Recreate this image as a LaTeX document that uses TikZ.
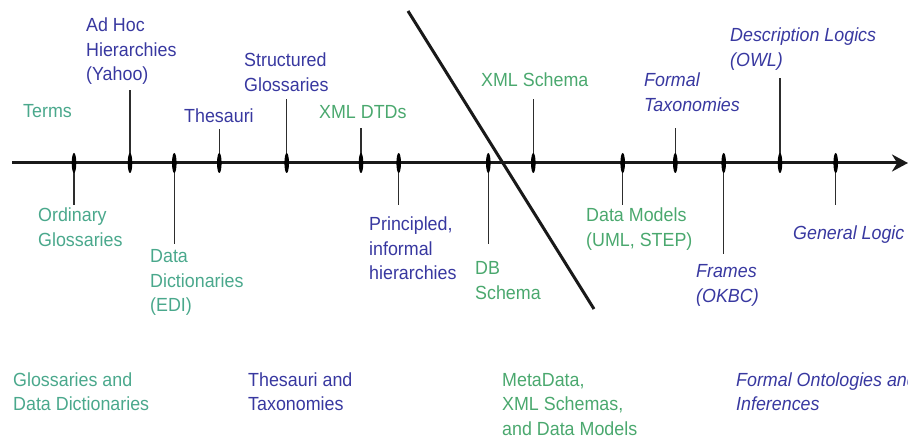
\documentclass[tikz,border=0pt]{standalone}
\usepackage{fontspec}
\setmainfont{Liberation Sans}[FakeStretch=0.94]
\usetikzlibrary{arrows.meta,shapes.geometric}

\definecolor{tealtxt}{RGB}{74,168,140}
\definecolor{greentxt}{RGB}{74,168,110}
\definecolor{bluetxt}{RGB}{56,56,160}
\definecolor{stemgray}{RGB}{45,45,45}

% left-aligned multi-line label; the box baseline is the first line's baseline
\newcommand\lbl[1]{\vtop{\baselineskip=24.5pt\halign{##\hfil\cr#1\crcr}}}

\begin{document}
\begin{tikzpicture}[x=1pt,y=-1pt,
  txt/.style={anchor=base west,inner sep=0pt,font=\fontsize{19}{24.5}\selectfont},
  teal/.style={txt,text=tealtxt},
  green/.style={txt,text=greentxt},
  blue/.style={txt,text=bluetxt},
  blueit/.style={txt,text=bluetxt,font=\fontsize{19}{24.5}\selectfont\itshape},
  tick/.style={fill=black,draw=none,ellipse,minimum width=4.6pt,minimum height=20pt,inner sep=0pt},
  stem/.style={draw=stemgray,line width=1.5pt},
  axis/.style={draw=black!90,line width=3pt,-{Stealth[length=16pt,width=17pt]}},
  divider/.style={draw=black!90,line width=3pt}]

\useasboundingbox (0,0) rectangle (908,438);
\clip (0,0) rectangle (908,438);

% time axis
\coordinate (axstart) at (12,163);
\coordinate (axend) at (908,163);
\draw[axis] (axstart) -- (axend);

% dividing line
\coordinate (dtop) at (408,11);
\coordinate (dbot) at (594,309);
\draw[divider] (dtop) -- (dbot);

% ticks on the axis and the ends of their stems
\foreach \n/\x/\y in {t1/74/205, t2/130/90, t3/174.3/244, t4/219.3/129,
                      t5/286.7/99, t6/361/128, t7/398.7/205, t8/488.3/244,
                      t9/533.3/99, t10/622.7/205, t11/675.3/128, t12/723.7/254,
                      t13/780/78, t14/835.7/205}{
  \coordinate (\n e) at (\x,\y);
  \draw[stem] (\x,163) -- (\n e);
  \node[tick] (\n) at (\x,163) {};
}

% labels above and below the axis
\node[teal]   (terms)  at (23,118)  {\lbl{Terms}};
\node[teal]   (ordgl)  at (38,222)  {\lbl{Ordinary\cr Glossaries}};
\node[blue]   (adhoc)  at (86,32)   {\lbl{Ad Hoc\cr Hierarchies\cr (Yahoo)}};
\node[teal]   (datad)  at (150,263) {\lbl{Data\cr Dictionaries\cr (EDI)}};
\node[blue]   (thes)   at (184,123) {\lbl{Thesauri}};
\node[blue]   (strgl)  at (244,67)  {\lbl{Structured\cr Glossaries}};
\node[green]  (xmldtd) at (319,119) {\lbl{XML DTDs}};
\node[blue]   (princ)  at (369,231) {\lbl{Principled,\cr informal\cr hierarchies}};
\node[green]  (dbsch)  at (475,275) {\lbl{DB\cr Schema}};
\node[green]  (xmlsch) at (481,87)  {\lbl{XML Schema}};
\node[green]  (datam)  at (586,222) {\lbl{Data Models\cr (UML, STEP)}};
\node[blueit] (ftax)   at (644,87)  {\lbl{Formal\cr Taxonomies}};
\node[blueit] (frames) at (696,278) {\lbl{Frames\cr (OKBC)}};
\node[blueit] (dlog)   at (730,42)  {\lbl{Description Logics\cr (OWL)}};
\node[blueit] (glog)   at (793,240) {\lbl{General Logic}};

% category captions along the bottom
\node[teal]   (cat1) at (13,386)  {\lbl{Glossaries and\cr Data Dictionaries}};
\node[blue]   (cat2) at (248,386) {\lbl{Thesauri and\cr Taxonomies}};
\node[green]  (cat3) at (502,386) {\lbl{MetaData,\cr XML Schemas,\cr and Data Models}};
\node[blueit] (cat4) at (736,386) {\lbl{Formal Ontologies and\cr Inferences}};
\end{tikzpicture}
\end{document}
